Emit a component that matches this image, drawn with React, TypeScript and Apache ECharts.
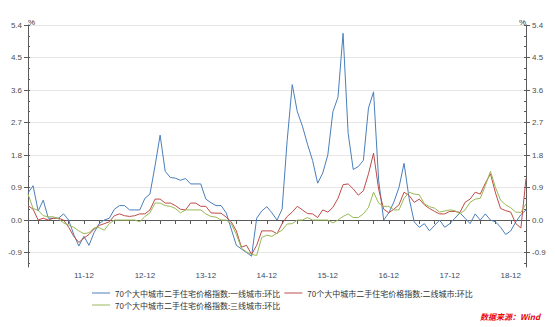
import React, { useEffect, useRef } from "react";
import * as echarts from "echarts";

// Monthly categories Jan 2011 .. Mar 2019 (labels "YY-MM")
const yearsShort = ["11", "12", "13", "14", "15", "16", "17", "18", "19"];
const monthsShort = ["01", "02", "03", "04", "05", "06", "07", "08", "09", "10", "11", "12"];
const categories: string[] = [];
yearsShort.forEach((y) => {
  monthsShort.forEach((m) => {
    if (y === "19" && Number(m) > 3) return;
    categories.push(`${y}-${m}`);
  });
});

const seriesNames = [
  "70个大中城市二手住宅价格指数:一线城市:环比",
  "70个大中城市二手住宅价格指数:二线城市:环比",
  "70个大中城市二手住宅价格指数:三线城市:环比",
];

const tier1 = [
  0.75, 0.95, 0.25, 0.55, 0.05, 0.05, 0.05, 0.17, 0.0, -0.4, -0.72, -0.45,
  -0.7, -0.35, -0.1, 0.0, 0.05, 0.3, 0.4, 0.4, 0.28, 0.28, 0.28, 0.6,
  0.72, 1.5, 2.35, 1.35, 1.18, 1.16, 1.1, 1.15, 1.0, 1.0, 1.0, 0.58,
  0.48, 0.4, 0.4, 0.2, -0.25, -0.7, -0.8, -0.9, -1.0, 0.05, 0.25, 0.37,
  0.2, 0.0, 0.3, 2.2, 3.75, 3.0, 2.6, 2.1, 1.65, 1.02, 1.3, 1.8,
  3.0, 3.4, 5.17, 2.4, 1.4, 1.48, 1.65, 3.1, 3.55, 1.1, 0.0, 0.2,
  0.5, 0.9, 1.57, 0.6, -0.05, -0.2, -0.1, -0.3, -0.15, 0.0, -0.2, -0.1,
  0.05, 0.2, 0.05, -0.1, 0.17, 0.0, 0.17, 0.0, -0.05, -0.2, -0.4, -0.3,
  -0.05, 0.15, 0.28,
];

const tier2 = [
  0.4, 0.3, 0.0, 0.05, 0.0, 0.05, 0.05, 0.0, -0.2, -0.45, -0.62, -0.5,
  -0.4, -0.25, -0.15, -0.1, -0.05, 0.12, 0.17, 0.12, 0.1, 0.12, 0.17, 0.17,
  0.28, 0.58, 0.58, 0.47, 0.47, 0.4, 0.3, 0.28, 0.47, 0.47, 0.38, 0.38,
  0.2, 0.19, 0.19, 0.08, -0.05, -0.3, -0.75, -0.7, -0.95, -0.7, -0.3, -0.3,
  -0.3, -0.38, -0.1, 0.1, 0.22, 0.38, 0.28, 0.18, 0.17, 0.07, 0.28, 0.22,
  0.35, 0.6, 0.98, 1.0, 0.86, 0.69, 0.81, 1.28, 1.85, 0.85, 0.3, 0.2,
  0.3, 0.42, 0.77, 0.68, 0.49, 0.58, 0.42, 0.32, 0.24, 0.17, 0.17, 0.24,
  0.24, 0.21, 0.49, 0.58, 0.77, 0.72, 1.02, 1.28, 0.75, 0.32, 0.26, 0.22,
  -0.1, -0.22, 1.15,
];

const tier3 = [
  0.72, 0.32, 0.27, 0.12, 0.09, 0.09, 0.03, -0.08, -0.14, -0.2, -0.3, -0.38,
  -0.35, -0.22, -0.21, -0.28, -0.1, 0.0, 0.0, 0.0, 0.0, 0.0, -0.05, 0.1,
  0.2, 0.47, 0.47, 0.4, 0.38, 0.32, 0.2, 0.28, 0.28, 0.28, 0.28, 0.17,
  0.1, 0.08, 0.0, 0.0, -0.1, -0.4, -0.78, -0.88, -0.95, -0.98, -0.48, -0.42,
  -0.45, -0.36, -0.28, -0.11, -0.1, 0.0, 0.0, 0.07, 0.0, 0.0, 0.0, 0.0,
  -0.08, 0.0, 0.1, 0.17, 0.07, 0.07, 0.17, 0.35, 0.77, 0.47, 0.38, 0.38,
  0.28, 0.28, 0.6, 0.77, 0.72, 0.7, 0.45, 0.37, 0.33, 0.22, 0.25, 0.28,
  0.26, 0.17, 0.28, 0.49, 0.58, 0.6, 0.95, 1.35, 0.9, 0.55, 0.42, 0.34,
  0.22, 0.21, 0.45,
];

const majorTicks = [-0.9, 0, 0.9, 1.8, 2.7, 3.6, 4.5, 5.4];
const minorTicks = [
  -1.2, -0.9, -0.6, -0.3, 0, 0.3, 0.6, 0.9, 1.2, 1.5, 1.8, 2.1, 2.4, 2.7, 3.0,
  3.3, 3.6, 3.9, 4.2, 4.5, 4.8, 5.1, 5.4,
];
const yMin = -1.3;
const yMax = 5.4;

const colors = ["#4a7ebb", "#be4b48", "#98b954"];
const axisColor = "#5a5a5a";
const labelFont = "Liberation Sans, Arial, sans-serif";
const cjkFont = "Noto Sans CJK SC, sans-serif";

export default function App() {
  const ref = useRef<HTMLDivElement>(null);

  useEffect(() => {
    if (!ref.current) return;
    const chart = echarts.init(ref.current, undefined, { renderer: "svg" });

    const majorAxis = (position: "left" | "right") => ({
      type: "value",
      position,
      min: yMin,
      max: yMax,
      offset: 0,
      axisLine: { show: true, lineStyle: { color: axisColor, width: 1 } },
      axisTick: {
        show: true,
        inside: false,
        length: 4,
        customValues: majorTicks,
        lineStyle: { color: axisColor },
      },
      axisLabel: {
        customValues: majorTicks,
        formatter: (v: number) => v.toFixed(1),
        fontSize: 8,
        color: "#4d4d4d",
        fontFamily: labelFont,
        margin: 6,
      },
      splitLine: {
        show: position === "left",
        lineStyle: { color: "#e6e6e6", width: 1 },
      },
    });

    const minorAxis = (position: "left" | "right") => ({
      type: "value",
      position,
      min: yMin,
      max: yMax,
      offset: 0,
      axisLine: { show: false },
      axisTick: {
        show: true,
        inside: true,
        length: 2,
        customValues: minorTicks,
        lineStyle: { color: axisColor },
      },
      axisLabel: { show: false },
      splitLine: { show: false },
    });

    const dataList = [tier1, tier2, tier3];

    chart.setOption({
      animation: false,
      backgroundColor: "#ffffff",
      grid: { left: 28, right: 29, top: 25, bottom: 60, containLabel: false },
      legend: {
        left: 92,
        top: 289,
        width: 400,
        icon: "rect",
        itemWidth: 18,
        itemHeight: 1,
        itemGap: 4,
        padding: 0,
        textStyle: {
          fontSize: 8,
          color: "#333",
          fontFamily: cjkFont,
          lineHeight: 8,
        },
        data: seriesNames,
      },
      xAxis: {
        type: "category",
        boundaryGap: false,
        data: categories,
        axisLine: { show: true, lineStyle: { color: axisColor } },
        axisTick: {
          show: true,
          length: 4,
          interval: (idx: number) => idx % 3 === 2,
          lineStyle: { color: axisColor },
        },
        axisLabel: {
          interval: (idx: number) => idx % 12 === 11,
          fontSize: 8,
          color: "#3a4a66",
          fontFamily: labelFont,
          margin: 4,
        },
        splitLine: { show: false },
      },
      yAxis: [majorAxis("left"), minorAxis("left"), majorAxis("right"), minorAxis("right")],
      series: seriesNames.map((name, k) => ({
        name,
        type: "line",
        data: dataList[k],
        yAxisIndex: 0,
        symbol: "none",
        smooth: false,
        lineStyle: { color: colors[k], width: 1 },
        itemStyle: { color: colors[k] },
      })),
      graphic: [
        {
          type: "text",
          left: 28,
          top: 18,
          style: { text: "%", fontSize: 8, fill: "#333", fontFamily: labelFont },
        },
        {
          type: "text",
          left: 519,
          top: 18,
          style: { text: "%", fontSize: 8, fill: "#333", fontFamily: labelFont },
        },
        {
          type: "text",
          left: 480,
          top: 312,
          style: {
            text: "数据来源：Wind",
            fontSize: 8,
            fill: "#e8000b",
            fontStyle: "italic",
            fontWeight: "bold",
            fontFamily: cjkFont,
          },
        },
      ],
    });

    return () => chart.dispose();
  }, []);

  return (
    <div
      ref={ref}
      style={{ position: "fixed", left: 0, top: 0, width: 555, height: 327, background: "#fff" }}
    />
  );
}
